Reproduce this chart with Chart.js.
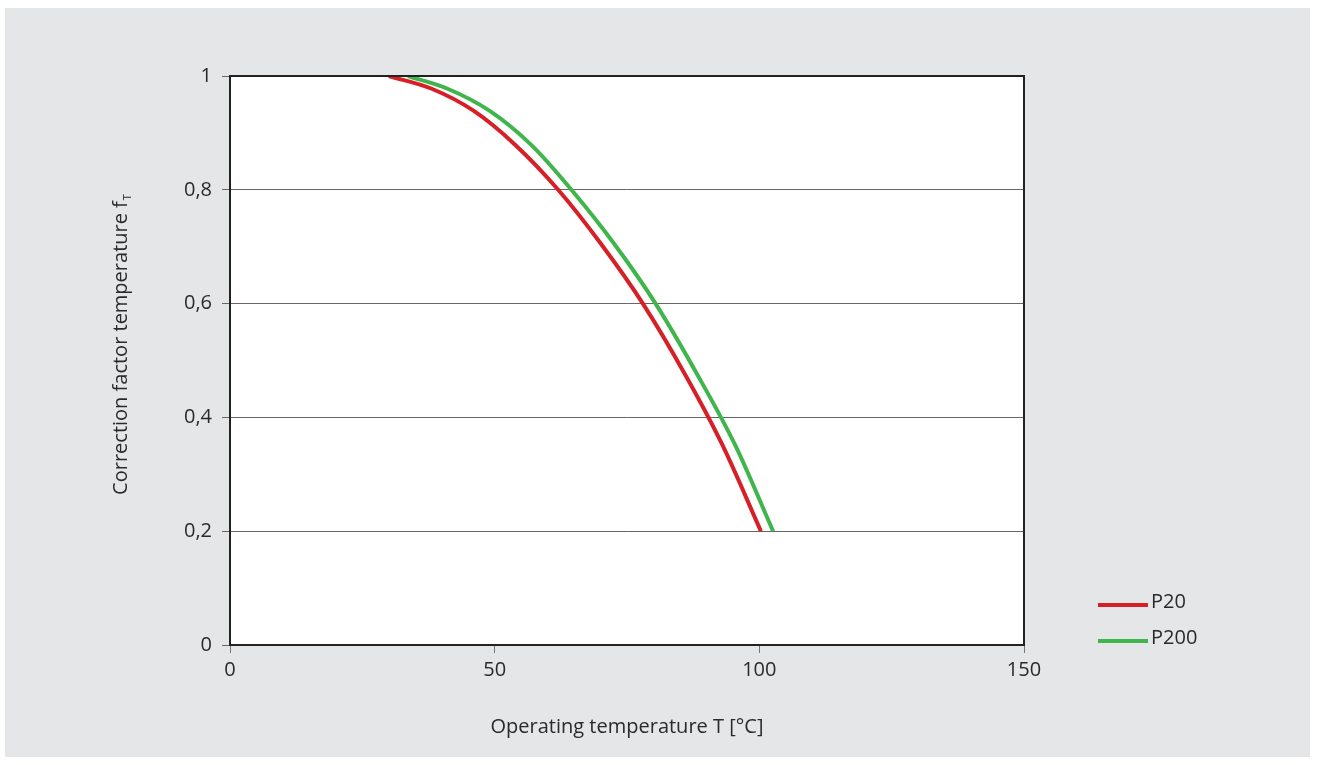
<!DOCTYPE html>
<html>
<head>
<meta charset="utf-8">
<script src="https://cdn.jsdelivr.net/npm/chart.js@4/dist/chart.umd.min.js"></script>
<style>
  html, body { margin: 0; padding: 0; background: #fff; }
  #wrap { width: 1317px; height: 765px; }
</style>
</head>
<body>
<div id="wrap"><canvas id="fChart"></canvas></div>
<script>
// Correction factor temperature vs operating temperature
const seriesNames = ['P20', 'P200'];
const p20T = [30, 38, 46, 54, 62, 70, 78, 86, 93, 100.3];
const p20F = [1, 0.978, 0.939, 0.878, 0.8, 0.706, 0.6, 0.475, 0.352, 0.2];
const p200T = [33.6, 41, 49, 57, 64.5, 72.5, 80.4, 88.3, 95.4, 102.6];
const p200F = [1, 0.978, 0.939, 0.878, 0.8, 0.706, 0.6, 0.475, 0.352, 0.2];
const xTicks = [0, 50, 100, 150];
const yTicks = [0, 0.2, 0.4, 0.6, 0.8, 1];

const FONT = '"Open Sans", "Noto Sans", sans-serif';
const colors = ['#d61f26', '#3fb54b'];

const toPts = (xs, ys) => xs.map((x, i) => ({ x: x, y: ys[i] }));

const decor = {
  id: 'decor',
  beforeDraw(chart) {
    const c = chart.ctx;
    c.save();
    c.fillStyle = '#e5e6e8';
    c.fillRect(5, 8, 1305, 749);
    const a = chart.chartArea;
    c.fillStyle = '#ffffff';
    c.fillRect(a.left, a.top, a.right - a.left, a.bottom - a.top);
    c.restore();
  },
  afterDraw(chart) {
    const c = chart.ctx;
    const a = chart.chartArea;
    c.save();
    c.strokeStyle = '#222';
    c.lineWidth = 2;
    c.strokeRect(a.left, a.top, a.right - a.left, a.bottom - a.top);

    // axis titles
    c.fillStyle = '#2a2a2a';
    c.font = '20px ' + FONT;
    c.textAlign = 'center';
    c.textBaseline = 'middle';
    c.fillText('Operating temperature T [°C]', (a.left + a.right) / 2, 727);

    c.translate(121, 345);
    c.rotate(-Math.PI / 2);
    const main = 'Correction factor temperature f';
    c.font = '20px ' + FONT;
    const w = c.measureText(main).width;
    c.font = '11px ' + FONT;
    const ws = c.measureText('T').width;
    const start = -(w + ws) / 2;
    c.textAlign = 'left';
    c.font = '20px ' + FONT;
    c.fillText(main, start, 0);
    c.font = '11px ' + FONT;
    c.fillText('T', start + w + 1, 7);
    c.restore();

    // legend
    c.save();
    chart.data.datasets.forEach((ds, i) => {
      const y = 605 + i * 36;
      c.strokeStyle = ds.borderColor;
      c.lineWidth = 4;
      c.beginPath();
      c.moveTo(1098, y);
      c.lineTo(1148, y);
      c.stroke();
      c.fillStyle = '#2a2a2a';
      c.font = '20px ' + FONT;
      c.textAlign = 'left';
      c.textBaseline = 'middle';
      c.fillText(ds.label, 1151, y - 3);
    });
    c.restore();
  }
};

new Chart(document.getElementById('fChart'), {
  type: 'scatter',
  data: {
    datasets: [
      { label: seriesNames[0], data: toPts(p20T, p20F) },
      { label: seriesNames[1], data: toPts(p200T, p200F) }
    ].map((d, i) => Object.assign(d, {
      showLine: true,
      borderColor: colors[i],
      backgroundColor: colors[i],
      borderWidth: 4,
      pointRadius: 0,
      cubicInterpolationMode: 'monotone',
      fill: false
    }))
  },
  options: {
    responsive: true,
    maintainAspectRatio: false,
    animation: false,
    layout: { padding: { left: 0, top: 76, right: 293, bottom: 0 } },
    plugins: { legend: { display: false }, tooltip: { enabled: false } },
    scales: {
      x: {
        type: 'linear',
        min: 0, max: 150,
        afterFit(s) { s.height = 120; },
        afterBuildTicks(s) { s.ticks = xTicks.map(v => ({ value: v })); },
        grid: { drawOnChartArea: false, tickLength: 8, color: '#777', lineWidth: 1 },
        border: { display: true, color: '#222', width: 2 },
        ticks: { color: '#2a2a2a', padding: 5, font: { family: FONT, size: 20 } }
      },
      y: {
        type: 'linear',
        min: 0, max: 1,
        afterFit(s) { s.width = 230; },
        afterBuildTicks(s) { s.ticks = yTicks.map(v => ({ value: v })); },
        grid: { drawOnChartArea: true, tickLength: 8, color: '#666', lineWidth: 1 },
        border: { display: true, color: '#222', width: 2 },
        ticks: {
          color: '#2a2a2a', padding: 10, font: { family: FONT, size: 20 },
          callback: v => String(Math.round(v * 10) / 10).replace('.', ',')
        }
      }
    }
  },
  plugins: [decor]
});
</script>
</body>
</html>
